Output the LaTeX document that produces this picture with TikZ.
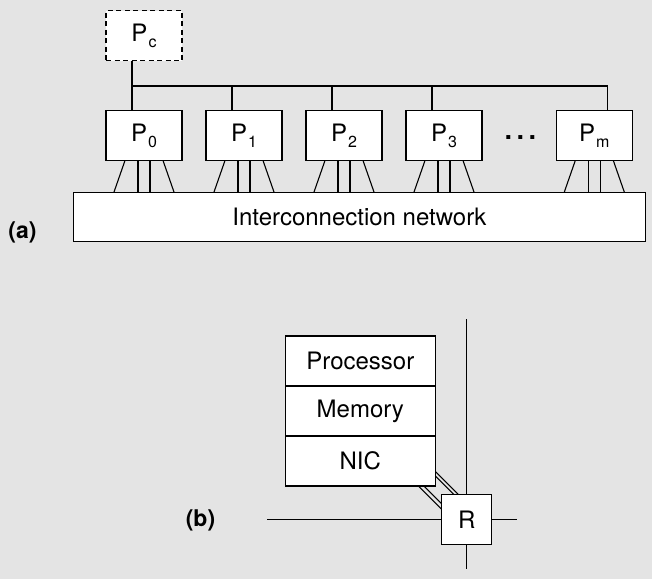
\documentclass[tikz,border=0pt]{standalone}
\usepackage{fontspec}
\setmainfont{TeX Gyre Heros}
\usetikzlibrary{positioning}
\definecolor{bggray}{RGB}{228,228,228}
\pgfdeclarelayer{bg}
\pgfdeclarelayer{wires}
\pgfsetlayers{bg,wires,main}
\newcommand{\psub}[1]{\kern1pt\raisebox{-6pt}{\fontsize{16}{16}\selectfont #1}}
\tikzset{
  box/.style={draw, fill=white, line width=1.1pt, inner sep=0pt, outer sep=0pt,
    font=\fontsize{24}{28}\selectfont},
  proc/.style={box, minimum width=76pt, minimum height=50pt},
  cell/.style={box, minimum width=150pt, minimum height=50pt},
  wire/.style={line width=1.1pt},
  tag/.style={font=\bfseries\fontsize{23}{27}\selectfont},
}
\begin{document}
\begin{tikzpicture}[x=1pt,y=-1pt]
	\begin{pgfonlayer}{bg}
		\fill[bggray] (0,0) rectangle (652,579);
	\end{pgfonlayer}
	\useasboundingbox (0,0) rectangle (652,579);
	
	% (a) processors, bus and network
	\node[proc, dash pattern=on 5pt off 3.5pt] (Pc) at (144,35.5) {P\psub{c}};
	\foreach \i/\x in {0/144,1/244,2/344,3/444,m/594.3}
		\node[proc] (P\i) at (\x,135.5) {P\psub{\i}};
	\node[anchor=base, inner sep=0pt, font=\fontsize{38}{38}\selectfont] (dots) at (521,139) {.\kern1.5pt.\kern1.5pt.};
	\node[box, minimum width=572.7pt, minimum height=49.7pt] (net) at (359.4,216.9) {Interconnection network};
	\node[tag] (taga) at (22.5,232) {(a)};
	
	\coordinate (bus) at (0,86);
	\draw[wire] ([xshift=-12pt]Pc.south) -- ([xshift=-12pt]P0.north);
	\draw[wire] ([xshift=-12pt]P0.north |- bus) -- ([xshift=13.4pt]Pm.north |- bus) -- ([xshift=13.4pt]Pm.north);
	\foreach \i in {1,2,3}
		\draw[wire] ([xshift=-12pt]P\i.north |- bus) -- ([xshift=-12pt]P\i.north);
	
	\foreach \i in {0,1,2,3,m} {
		\draw[wire] ([xshift=-19pt]P\i.south) -- ([xshift=-30pt]P\i.south |- net.north);
		\draw[wire] ([xshift=-6pt]P\i.south) -- ([xshift=-6pt]P\i.south |- net.north);
		\draw[wire] ([xshift=6pt]P\i.south) -- ([xshift=6pt]P\i.south |- net.north);
		\draw[wire] ([xshift=19pt]P\i.south) -- ([xshift=30pt]P\i.south |- net.north);
	}
	
	% (b) one node and its router
	\node[cell] (cpu) at (360.3,361) {Processor};
	\node[cell, below=0pt of cpu] (mem) {Memory};
	\node[cell, below=0pt of mem] (nic) {NIC};
	\node[box, minimum size=50pt] (R) at (466.7,519.7) {R};
	\node[tag] (tagb) at (200.5,520) {(b)};
	
	\coordinate (Rn) at (466.7,319);
	\coordinate (Rs) at (466.7,569);
	\coordinate (Rw) at (266.7,519.7);
	\coordinate (Re) at (516.7,519.7);
	\draw[wire] (R.north) -- (Rn);
	\draw[wire] (R.south) -- (Rs);
	\draw[wire] (R.west) -- (Rw);
	\draw[wire] (R.east) -- (Re);
	
	\begin{pgfonlayer}{wires}
		\foreach \off in {-14.5,-10,11.5,17}
			\draw[wire] (nic.south east) ++(-20,-20+\off) -- ++(58,58);
	\end{pgfonlayer}
\end{tikzpicture}
\end{document}
